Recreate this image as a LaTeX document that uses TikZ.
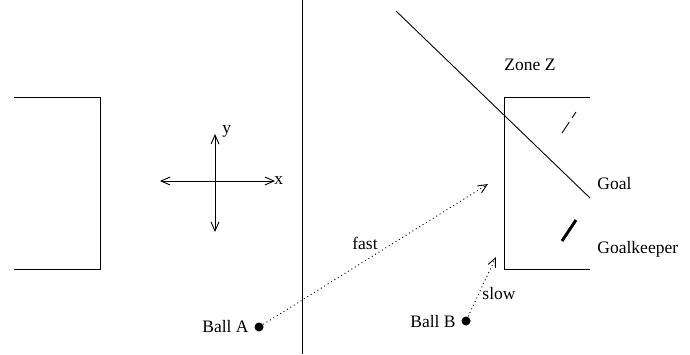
\documentclass[tikz,border=0pt]{standalone}
\usepackage{fontspec}
\setmainfont{Liberation Serif}
\usetikzlibrary{arrows.meta}
\begin{document}
\begin{tikzpicture}[x=1pt,y=-1pt,
  line width=0.9pt,
  lbl/.style={inner sep=0pt,font=\fontsize{17.5}{20}\selectfont},
  ball/.style={circle,fill=black,inner sep=0pt,minimum size=9pt},
  tip/.style={-{Straight Barb[length=9pt,width=8pt,line width=0.9pt]}},
  dbl/.style={{Straight Barb[length=9pt,width=8pt,line width=0.9pt]}-{Straight Barb[length=9pt,width=8pt,line width=0.9pt]}},
  dotline/.style={dash pattern=on 1pt off 3pt}]
\useasboundingbox (0,0) rectangle (690,354);
% left goal
\draw (14,97) -- (100,97) -- (100,269) -- (14,269);
% axes
\draw[dbl] (160,181) -- (275,181);
\draw[dbl] (215,134) -- (215,232);
\node[lbl,anchor=west] (xl) at (274,180) {x};
\node[lbl,anchor=west] (yl) at (222,131) {y};
% centre line
\draw (302,0) -- (302,354);
% right goal
\draw (590,97) -- (504,97) -- (504,269) -- (590,269);
% zone line
\draw (396,11) -- (590,198);
\node[lbl] (zone) at (530,65) {Zone Z};
\node[lbl,anchor=west] (goal) at (597,184) {Goal};
\node[lbl,anchor=west] (gk) at (597,249) {Goalkeeper};
% goalkeeper marks
\draw[dash pattern=on 13pt off 5pt] (562,133) -- (576,112);
\draw[line width=3pt] (562,241) -- (576,220);
% balls
\node[ball] (ba) at (259,327) {};
\node[ball] (bb) at (466,321) {};
\node[lbl,anchor=east] (bal) at (249,327) {Ball A};
\node[lbl,anchor=east] (bbl) at (456,322) {Ball B};
\coordinate (ta) at (488,184);
\coordinate (tb) at (496,257);
\draw[tip,dotline] (ba) -- (ta);
\draw[tip,dotline] (bb) -- (tb);
\node[lbl] (fast) at (365,243) {fast};
\node[lbl,anchor=west] (slow) at (482,294) {slow};
\end{tikzpicture}
\end{document}
